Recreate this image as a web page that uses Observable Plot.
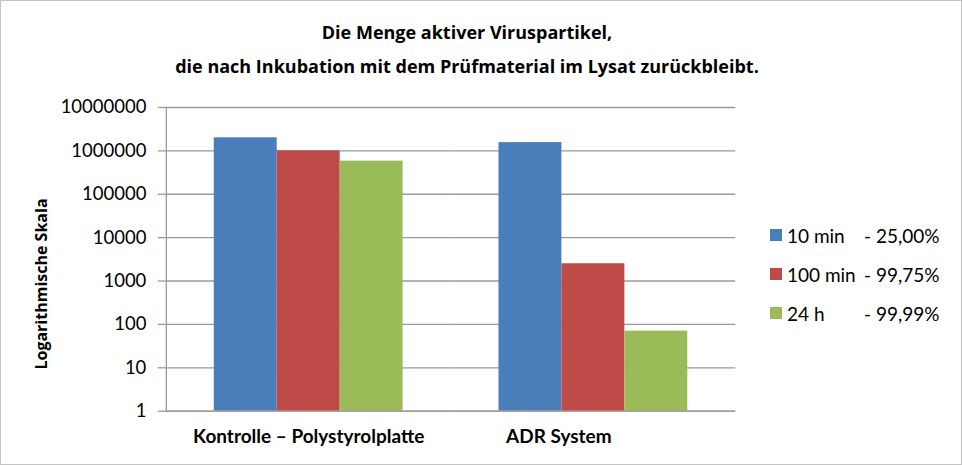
<!DOCTYPE html>
<html>
<head>
<meta charset="utf-8">
<script src="https://cdn.jsdelivr.net/npm/d3@7"></script>
<script src="https://cdn.jsdelivr.net/npm/@observablehq/plot@0.6"></script>
<style>
  html, body { margin: 0; padding: 0; background: #fff; }
  #chart {
    position: relative; width: 962px; height: 465px; box-sizing: border-box;
    border: 1px solid #c4c4c4; background: #fff; font-family: Lato, "Noto Sans", sans-serif; color: #000;
    overflow: hidden;
  }
  #title {
    position: absolute; left: -1px; top: 14px; width: 934px; text-align: center;
    font-family: "Open Sans", Lato, sans-serif;
    font-weight: bold; font-size: 18px; line-height: 34px;
  }
  #ylabel {
    position: absolute; left: 40px; top: 283px; width: 0; height: 0;
  }
  #ylabel span {
    position: absolute; left: 0; top: 0; transform: translate(-50%, -50%) rotate(-90deg);
    font-family: "Open Sans", Lato, sans-serif;
    white-space: nowrap; font-weight: bold; font-size: 16px; line-height: 20px;
  }
  #plot { position: absolute; left: -1px; top: 89px; }
  #legend {
    position: absolute; left: 769px; top: 214.5px; font-size: 19px;
  }
  .row { display: flex; align-items: center; height: 39px; white-space: pre; }
  .sw { width: 12px; height: 12px; margin-right: 5px; }
  .lab { display: inline-block; width: 77px; }
</style>
</head>
<body>
<div id="chart">
  <div id="title"></div>
  <div id="ylabel"><span></span></div>
  <div id="plot"></div>
  <div id="legend"></div>
</div>
<script>
const titleLines = ["Die Menge aktiver Viruspartikel,", "die nach Inkubation mit dem Prüfmaterial im Lysat zurückbleibt."];
const yAxisLabel = "Logarithmische Skala";
const categories = ["Kontrolle – Polystyrolplatte", "ADR System"];
const series = ["10 min", "100 min", "24 h"];
const reductions = ["- 25,00%", "- 99,75%", "- 99,99%"];
const kontrolleValues = [2000000, 1000000, 580000];
const adrValues = [1550000, 2500, 70];
const yTicks = [1, 10, 100, 1000, 10000, 100000, 1000000, 10000000];
const colors = ["#4a7ebb", "#be4b48", "#9bbb59"];

const rows = [];
[kontrolleValues, adrValues].forEach((vals, ci) => {
  vals.forEach((v, si) => rows.push({category: categories[ci], series: series[si], value: v}));
});

document.getElementById("title").innerHTML = titleLines.map(t => `<div>${t}</div>`).join("");
document.querySelector("#ylabel span").textContent = yAxisLabel;

const legend = document.getElementById("legend");
series.forEach((s, i) => {
  const row = document.createElement("div");
  row.className = "row";
  row.innerHTML = `<span class="sw" style="background:${colors[i]}"></span><span class="lab">${s}</span><span>${reductions[i]}</span>`;
  legend.appendChild(row);
});

const grid = "#9a9a9a";
const chart = Plot.plot({
  width: 962,
  height: 360,
  marginLeft: 166,
  marginRight: 226,
  marginTop: 17,
  marginBottom: 39,
  style: {fontFamily: "Lato, 'Noto Sans', sans-serif", background: "transparent", color: "#000"},
  fx: {domain: categories, padding: 0},
  x: {domain: series, paddingInner: 0, paddingOuter: 0.754, axis: null},
  y: {type: "log", domain: [1, 10000000]},
  color: {domain: series, range: colors},
  marks: [
    Plot.ruleY(yTicks, {stroke: grid, strokeWidth: 1.3}),
    Plot.barY(rows, {fx: "category", x: "series", y1: 1, y2: "value", fill: "series"}),
    Plot.ruleY([1], {stroke: grid, strokeWidth: 1.3}),
    Plot.frame({anchor: "left", facetAnchor: "left", stroke: grid, strokeWidth: 1.3}),
    Plot.axisY({ticks: yTicks, tickFormat: d => String(d), tickSize: 8, tickPadding: 12,
      fontSize: 18.5, stroke: grid, strokeWidth: 1.3, label: null}),
    Plot.axisFx({anchor: "bottom", tickSize: 0, tickPadding: 18, fontSize: 19, fontWeight: "bold",
      label: null, tickFormat: d => d === categories[1] ? d + "\u00a0".repeat(15) : d})
  ]
});
document.getElementById("plot").appendChild(chart);
</script>
</body>
</html>
